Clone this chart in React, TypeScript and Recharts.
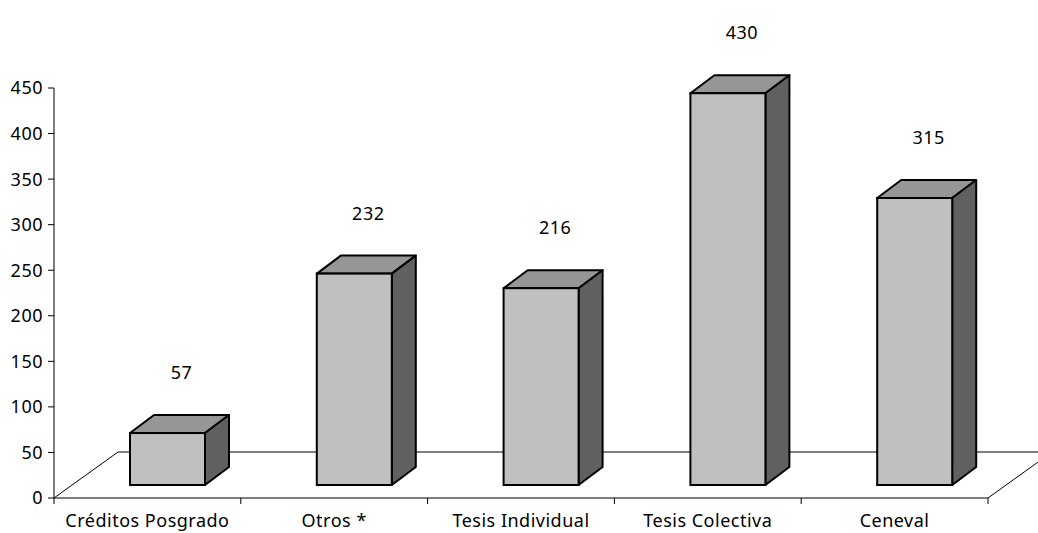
import { BarChart, Bar, XAxis, YAxis, CartesianGrid, LabelList } from 'recharts'

const CATEGORIES = ['Créditos Posgrado', 'Otros *', 'Tesis Individual', 'Tesis Colectiva', 'Ceneval']
const VALUES = [57, 232, 216, 430, 315]
const Y_TICKS = [0, 50, 100, 150, 200, 250, 300, 350, 400, 450]

const data = CATEGORIES.map((name, i) => ({ name, value: VALUES[i] }))

// 3D offsets (pixels)
const OFF_X = 20
const OFF_Y = 13
const DEPTH_X = 24
const DEPTH_Y = 18
const FLOOR_X = 64
const FLOOR_Y = 46

const FONT = { fontFamily: 'Noto Sans', fontSize: 18, fill: '#000', letterSpacing: 0.5 }

function Box3D(props: any) {
  const { x, y, width, height } = props
  const fx = x + OFF_X
  const fy = y - OFF_Y
  const top = `${fx},${fy} ${fx + DEPTH_X},${fy - DEPTH_Y} ${fx + width + DEPTH_X},${fy - DEPTH_Y} ${fx + width},${fy}`
  const side = `${fx + width},${fy} ${fx + width + DEPTH_X},${fy - DEPTH_Y} ${fx + width + DEPTH_X},${fy + height - DEPTH_Y} ${fx + width},${fy + height}`
  return (
    <g>
      <polygon points={top} fill="#969696" stroke="#000" strokeWidth={2} strokeLinejoin="round" />
      <polygon points={side} fill="#606060" stroke="#000" strokeWidth={2} strokeLinejoin="round" />
      <rect x={fx} y={fy} width={width} height={height} fill="#C0C0C0" stroke="#000" strokeWidth={2} />
    </g>
  )
}

function ValueLabel(props: any) {
  const { x, y, width, value } = props
  return (
    <text x={x + OFF_X + width / 2 + 14} y={y - OFF_Y - DEPTH_Y - 36} textAnchor="middle" {...FONT}>
      {value}
    </text>
  )
}

function Floor(props: any) {
  const { x1, y1, x2 } = props
  const pts = `${x1},${y1} ${x1 + FLOOR_X},${y1 - FLOOR_Y} ${x2 + FLOOR_X},${y1 - FLOOR_Y} ${x2},${y1}`
  return <polyline key={props.key ?? 'floor'} points={pts} fill="none" stroke="#000" strokeWidth={1} />
}

// category label plus Excel-style tick marks between categories
function CategoryTick(props: any) {
  const { x, y, payload, index } = props
  const half = payload?.offset ?? 0
  const last = index === CATEGORIES.length - 1
  return (
    <g>
      <line x1={x - half} y1={y} x2={x - half} y2={y + 6} stroke="#000" />
      {last && <line x1={x + half} y1={y} x2={x + half} y2={y + 6} stroke="#000" />}
      <text x={x} y={y + 16} dy="0.71em" textAnchor="middle" {...FONT}>
        {payload.value}
      </text>
    </g>
  )
}

export default function App() {
  return (
    <div style={{ position: 'absolute', left: 0, top: 0, background: '#fff' }}>
      <BarChart
        width={1038}
        height={533}
        data={data}
        margin={{ top: 88, right: 50, bottom: 0, left: 0 }}
        barCategoryGap="0%"
        style={{ fontFamily: 'Noto Sans' }}
      >
        <CartesianGrid vertical={false} horizontalValues={[0]} horizontal={Floor} />
        <XAxis
          dataKey="name"
          height={35}
          interval={0}
          tickLine={false}
          tickSize={0}
          tickMargin={0}
          axisLine={{ stroke: '#000' }}
          tick={CategoryTick}
        />
        <YAxis
          width={54}
          domain={[0, 450]}
          ticks={Y_TICKS}
          interval={0}
          tickSize={6}
          tickMargin={5}
          axisLine={{ stroke: '#000' }}
          tickLine={{ stroke: '#000' }}
          tick={FONT}
        />
        <Bar dataKey="value" barSize={75} shape={Box3D} isAnimationActive={false}>
          <LabelList dataKey="value" content={ValueLabel} />
        </Bar>
      </BarChart>
    </div>
  )
}
